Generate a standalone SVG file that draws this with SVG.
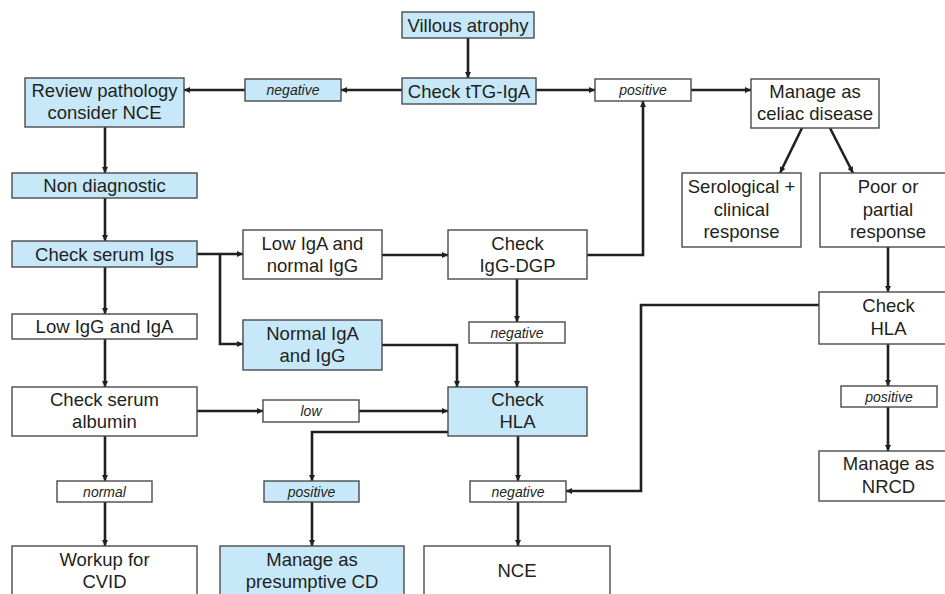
<svg xmlns="http://www.w3.org/2000/svg" width="945" height="594" viewBox="0 0 945 594">
<defs>
<marker id="ah" viewBox="0 0 10 10" refX="10" refY="5" markerWidth="7" markerHeight="6" markerUnits="userSpaceOnUse" orient="auto">
<path d="M0,0 L10,5 L0,10 z" fill="#231f20"/>
</marker>
</defs>
<style>
.b{fill:#c6e8f8;stroke:#4a4a4a;stroke-width:1.4}
.w{fill:#ffffff;stroke:#4a4a4a;stroke-width:1.4}
.t{font-family:"Liberation Sans",Arial,sans-serif;font-size:18.5px;fill:#231f20;text-anchor:middle}
.l{font-family:"Liberation Sans",Arial,sans-serif;font-size:14px;font-style:italic;fill:#231f20;text-anchor:middle}
.c{fill:none;stroke:#231f20;stroke-width:2.6;marker-end:url(#ah)}
.n{fill:none;stroke:#231f20;stroke-width:2.6}
</style>
<rect width="945" height="594" fill="#ffffff"/>
<g id="connectors">
<path class="c" d="M468,38 V78"/>
<path class="c" d="M402,90 H341"/>
<path class="c" d="M245,90 H184"/>
<path class="c" d="M536,90 H595"/>
<path class="c" d="M691,90 H751"/>
<path class="c" d="M802,128 L780,173"/>
<path class="c" d="M830,128 L853,173"/>
<path class="c" d="M888,247 V292"/>
<path class="c" d="M888,344 V386"/>
<path class="c" d="M888,407 V451"/>
<path class="c" d="M819,305 H641 V491 H566"/>
<path class="c" d="M105,127 V173"/>
<path class="c" d="M105,198 V241"/>
<path class="c" d="M197,254 H243"/>
<path class="c" d="M220,254 V344 H243"/>
<path class="c" d="M382,255 H448"/>
<path class="c" d="M587,255 H643 V101"/>
<path class="c" d="M517,279 V322"/>
<path class="c" d="M517,343 V387"/>
<path class="c" d="M382,345 H457 V387"/>
<path class="c" d="M105,267 V314"/>
<path class="c" d="M105,339 V387"/>
<path class="c" d="M197,411 H263"/>
<path class="c" d="M359,411 H448"/>
<path class="c" d="M448,432 H312 V481"/>
<path class="c" d="M312,502 V546"/>
<path class="c" d="M518,436 V481"/>
<path class="c" d="M518,502 V546"/>
<path class="c" d="M105,436 V481"/>
<path class="c" d="M105,502 V546"/>
</g>
<g id="villous"><rect class="b" x="402" y="12" width="132" height="26"/><text class="t" x="468" y="31.5">Villous atrophy</text></g>
<g id="ttg"><rect class="b" x="402" y="78" width="134" height="26"/><text class="t" x="469" y="97.5">Check tTG-IgA</text></g>
<g id="neg1"><rect class="b" x="245" y="79" width="96" height="22"/><text class="l" x="293" y="95">negative</text></g>
<g id="review"><rect class="b" x="25" y="78" width="159" height="49"/><text class="t" x="104.5" y="97">Review pathology</text><text class="t" x="104.5" y="119">consider NCE</text></g>
<g id="pos1"><rect class="w" x="595" y="79" width="96" height="22"/><text class="l" x="643" y="95">positive</text></g>
<g id="celiac"><rect class="w" x="751" y="79" width="128" height="49"/><text class="t" x="815" y="98">Manage as</text><text class="t" x="815" y="120">celiac disease</text></g>
<g id="sero"><rect class="w" x="682" y="173" width="119" height="74"/><text class="t" x="741.5" y="193">Serological +</text><text class="t" x="741.5" y="216">clinical</text><text class="t" x="741.5" y="238">response</text></g>
<g id="poor"><rect class="w" x="820" y="173" width="138" height="74"/><text class="t" x="888" y="193">Poor or</text><text class="t" x="888" y="216">partial</text><text class="t" x="888" y="238">response</text></g>
<g id="hlaR"><rect class="w" x="819" y="292" width="139" height="52"/><text class="t" x="888.5" y="312">Check</text><text class="t" x="888.5" y="335">HLA</text></g>
<g id="posR"><rect class="w" x="841" y="386" width="96" height="21"/><text class="l" x="889" y="401.5">positive</text></g>
<g id="nrcd"><rect class="w" x="819" y="451" width="139" height="50"/><text class="t" x="888.5" y="470">Manage as</text><text class="t" x="888.5" y="493">NRCD</text></g>
<g id="nondiag"><rect class="b" x="12" y="173" width="185" height="25"/><text class="t" x="104.5" y="191.5">Non diagnostic</text></g>
<g id="serumIgs"><rect class="b" x="12" y="241" width="185" height="26"/><text class="t" x="104.5" y="260.5">Check serum Igs</text></g>
<g id="lowIgA"><rect class="w" x="243" y="230" width="139" height="49"/><text class="t" x="312.5" y="249.5">Low IgA and</text><text class="t" x="312.5" y="271.5">normal IgG</text></g>
<g id="dgp"><rect class="w" x="448" y="230" width="139" height="49"/><text class="t" x="517.5" y="249.5">Check</text><text class="t" x="517.5" y="271.5">IgG-DGP</text></g>
<g id="neg2"><rect class="w" x="469" y="322" width="96" height="21"/><text class="l" x="517" y="337.5">negative</text></g>
<g id="normalIgA"><rect class="b" x="243" y="320" width="139" height="50"/><text class="t" x="312.5" y="339.5">Normal IgA</text><text class="t" x="312.5" y="361.5">and IgG</text></g>
<g id="lowIgG"><rect class="w" x="12" y="314" width="185" height="25"/><text class="t" x="104.5" y="333">Low IgG and IgA</text></g>
<g id="albumin"><rect class="w" x="12" y="387" width="185" height="49"/><text class="t" x="104.5" y="406">Check serum</text><text class="t" x="104.5" y="428">albumin</text></g>
<g id="low"><rect class="w" x="263" y="400" width="96" height="22"/><text class="l" x="311" y="416">low</text></g>
<g id="hlaC"><rect class="b" x="448" y="387" width="139" height="49"/><text class="t" x="517.5" y="406">Check</text><text class="t" x="517.5" y="428">HLA</text></g>
<g id="normal"><rect class="w" x="57" y="481" width="95" height="21"/><text class="l" x="104.5" y="496.5">normal</text></g>
<g id="posC"><rect class="b" x="264" y="481" width="95" height="21"/><text class="l" x="311.5" y="496.5">positive</text></g>
<g id="negC"><rect class="w" x="470" y="481" width="96" height="21"/><text class="l" x="518" y="496.5">negative</text></g>
<g id="cvid"><rect class="w" x="12" y="546" width="185" height="60"/><text class="t" x="104.5" y="565.5">Workup for</text><text class="t" x="104.5" y="587.5">CVID</text></g>
<g id="presumptive"><rect class="b" x="220" y="546" width="184" height="60"/><text class="t" x="312" y="565.5">Manage as</text><text class="t" x="312" y="587.5">presumptive CD</text></g>
<g id="nce"><rect class="w" x="424" y="546" width="186" height="60"/><text class="t" x="517" y="576.5">NCE</text></g>
</svg>
